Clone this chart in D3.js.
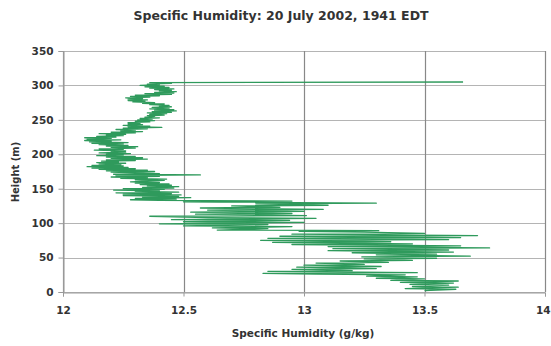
<!DOCTYPE html>
<html>
<head>
<meta charset="utf-8">
<script src="https://cdn.jsdelivr.net/npm/d3@7"></script>
<style>
  body { margin: 0; background: #fff; }
  text { font-family: "DejaVu Sans", "Liberation Sans", Arial, sans-serif; fill: #333; }
</style>
</head>
<body>
<div class="chart"></div>
<script>
// waarden
var title = "Specific Humidity: 20 July 2002, 1941 EDT";
var xLabel = "Specific Humidity (g/kg)";
var yLabel = "Height (m)";
var xTicks = [12, 12.5, 13, 13.5, 14];
var yTicks = [0, 50, 100, 150, 200, 250, 300, 350];

// hoogte (m) en specifieke vochtigheid (g/kg), van onder naar boven
var heightM = [
  2, 4, 5, 7, 8, 10, 11, 13, 14, 16, 17, 19, 20,
  22, 23, 25, 26, 27, 28, 30, 31, 33, 34, 36, 37, 39, 40,
  42, 43, 45, 46, 48, 49, 51, 52, 54, 55, 57, 58, 60,
  61, 63, 64, 66, 67, 69, 70, 72, 73, 75, 76, 78, 79, 81, 82, 84,
  85, 87, 88, 89, 90, 92, 93, 95, 96, 98, 99, 101, 102, 104, 105, 107, 108, 110,
  111, 113, 114, 116, 117, 119, 120, 122, 123, 125, 126, 128, 129, 131, 132, 133, 134,
  135, 136, 137, 138, 139, 140,
  141, 142, 143, 144, 145, 146, 147, 148, 149, 150, 151, 152, 153, 154, 155, 156, 157, 158, 159, 160,
  162, 163, 164, 165, 166, 167, 168, 169, 170, 171, 172, 174, 175, 176, 177, 178, 179, 180,
  181, 182, 183, 184, 185, 186, 187, 188, 189, 190, 191, 192, 193, 194, 195, 196, 197, 198, 199, 200,
  201, 202, 203, 204, 205, 206, 207, 208, 209, 210, 211, 212, 213, 214, 215, 216, 217, 218, 219, 220,
  221, 222, 223, 224, 225, 226, 227, 228, 229, 230, 231, 232, 233, 234, 235, 236, 237, 238, 239, 240,
  241, 242, 243, 244, 245, 246, 247, 248, 249, 250, 251, 252, 253, 254, 255, 256, 257, 258, 259, 260,
  261, 262, 263, 264, 265, 266, 267, 268, 269, 270, 271, 272, 273, 274, 275, 276, 277, 278, 279, 280,
  281, 282, 283, 284, 285, 286, 287, 288, 289, 290, 291, 292, 293, 294, 295, 296, 297, 298, 299, 300,
  301, 302, 303, 304, 305
];
var humidity = [
  13.50, 13.63, 13.42, 13.64, 13.45, 13.60, 13.44, 13.62, 13.40, 13.64, 13.36, 13.50, 13.30,
  13.47, 13.26, 13.42, 13.05, 12.83, 13.47, 12.85, 13.20, 12.95, 13.30, 12.97, 13.32, 13.00, 13.25,
  13.05, 13.35, 13.15, 13.45, 13.25, 13.55, 13.24, 13.69, 13.30, 13.55, 13.20, 13.62, 13.10,
  13.60, 13.12, 13.77, 13.10, 13.65, 12.95, 13.45, 12.87, 13.36, 12.82, 13.60, 12.85, 13.65, 12.90, 13.72, 12.95,
  13.50, 13.25, 12.98, 13.31, 12.64, 12.85, 12.62, 12.95, 12.50, 12.85, 12.40, 13.00, 12.50, 12.94, 12.45, 13.05, 12.60, 12.36,
  13.01, 12.55, 12.95, 12.53, 13.00, 12.60, 13.08, 12.57, 12.90, 12.70, 13.10, 12.80, 13.30, 12.50, 12.95, 12.40, 12.28,
  12.47, 12.30, 12.53, 12.33, 12.48, 12.25,
  12.49, 12.25, 12.45, 12.22, 12.48, 12.30, 12.40, 12.21, 12.42, 12.25, 12.46, 12.33, 12.48, 12.35, 12.45, 12.32, 12.44, 12.30, 12.40, 12.28,
  12.42, 12.30, 12.43, 12.24, 12.35, 12.20, 12.40, 12.22, 12.57, 12.21, 12.40, 12.20, 12.38, 12.18, 12.35, 12.15, 12.30, 12.12,
  12.27, 12.10, 12.25, 12.12, 12.24, 12.15, 12.26, 12.14, 12.23, 12.16, 12.30, 12.18, 12.35, 12.20, 12.33, 12.18, 12.30, 12.14, 12.25, 12.18,
  12.28, 12.15, 12.26, 12.20, 12.26, 12.13, 12.25, 12.15, 12.30, 12.20, 12.31, 12.18, 12.27, 12.15, 12.25, 12.12, 12.27, 12.11, 12.20, 12.09,
  12.24, 12.10, 12.20, 12.09, 12.22, 12.14, 12.25, 12.18, 12.26, 12.15, 12.30, 12.20, 12.33, 12.24, 12.30, 12.22, 12.35, 12.25, 12.41, 12.27,
  12.36, 12.25, 12.33, 12.27, 12.32, 12.27, 12.36, 12.30, 12.38, 12.31, 12.37, 12.32, 12.40, 12.34, 12.38, 12.35, 12.42, 12.36, 12.43, 12.35,
  12.45, 12.37, 12.47, 12.38, 12.46, 12.36, 12.44, 12.37, 12.45, 12.40, 12.44, 12.36, 12.42, 12.33, 12.38, 12.29, 12.34, 12.27, 12.35, 12.27,
  12.33, 12.26, 12.36, 12.28, 12.40, 12.30, 12.45, 12.34, 12.46, 12.38, 12.47, 12.40, 12.45, 12.38, 12.46, 12.36, 12.44, 12.34, 12.42, 12.32,
  12.40, 12.35, 12.45, 12.36, 13.66
];

var width = 551;
var height = 346;
var margin = { top: 51, right: 5, bottom: 54, left: 63 };

var svg = d3.select(".chart").append("svg")
  .attr("width", width)
  .attr("height", height);

var x = d3.scaleLinear()
  .domain([12, 14])
  .range([margin.left, width - margin.right - 1]);
var y = d3.scaleLinear()
  .domain([0, 350])
  .range([height - margin.bottom, margin.top]);

// rasterlijnen
svg.append("g")
  .selectAll("line")
  .data(yTicks)
  .enter()
  .append("line")
  .attr("x1", x(12))
  .attr("x2", x(14))
  .attr("y1", d => Math.round(y(d)) + 0.5)
  .attr("y2", d => Math.round(y(d)) + 0.5)
  .attr("stroke", "#b4b4b4")
  .attr("stroke-width", 1.2);

svg.append("g")
  .selectAll("line")
  .data(xTicks)
  .enter()
  .append("line")
  .attr("x1", d => Math.round(x(d)) + 0.5)
  .attr("x2", d => Math.round(x(d)) + 0.5)
  .attr("y1", y(350))
  .attr("y2", y(0))
  .attr("stroke", d => d == 12 ? "#999" : "#888")
  .attr("stroke-width", 1.2);

// assen
var yAxis = svg.append("g")
  .attr("transform", "translate(" + (Math.round(x(12)) + 0.5) + ",0)")
  .call(d3.axisLeft(y).tickValues(yTicks).tickSize(5).tickPadding(5));
var xAxis = svg.append("g")
  .attr("transform", "translate(0," + (Math.round(y(0)) + 0.5) + ")")
  .call(d3.axisBottom(x).tickValues(xTicks).tickSize(4).tickPadding(10).tickFormat(d3.format("")));

[xAxis, yAxis].forEach(function (a) {
  a.select(".domain").attr("stroke", "#999");
  a.selectAll(".tick line").attr("stroke", "#999");
  a.selectAll(".tick text")
    .style("font-family", "'DejaVu Sans', 'Liberation Sans', Arial, sans-serif")
    .style("font-size", "10.5px")
    .style("font-weight", "bold")
    .attr("fill", "#444");
});

// laatste label (14) valt anders buiten de rand
xAxis.selectAll(".tick text")
  .filter(d => d == 14)
  .attr("text-anchor", "end")
  .attr("x", 5);

// het profiel
var line = d3.line()
  .x((d, i) => x(humidity[i]))
  .y(d => y(d));

svg.append("path")
  .datum(heightM)
  .attr("d", line)
  .attr("fill", "none")
  .attr("stroke", "#2f9a5c")
  .attr("stroke-width", 1.3)
  .attr("stroke-linejoin", "round");

// titels
svg.append("text")
  .attr("x", 281)
  .attr("y", 20)
  .attr("text-anchor", "middle")
  .style("font-size", "12.5px")
  .style("font-weight", "bold")
  .text(title);

svg.append("text")
  .attr("x", 303)
  .attr("y", 337)
  .attr("text-anchor", "middle")
  .style("font-size", "10.5px")
  .style("font-weight", "bold")
  .text(xLabel);

svg.append("text")
  .attr("transform", "translate(19,172) rotate(-90)")
  .attr("text-anchor", "middle")
  .style("font-size", "10px")
  .style("font-weight", "bold")
  .text(yLabel);
</script>
</body>
</html>
